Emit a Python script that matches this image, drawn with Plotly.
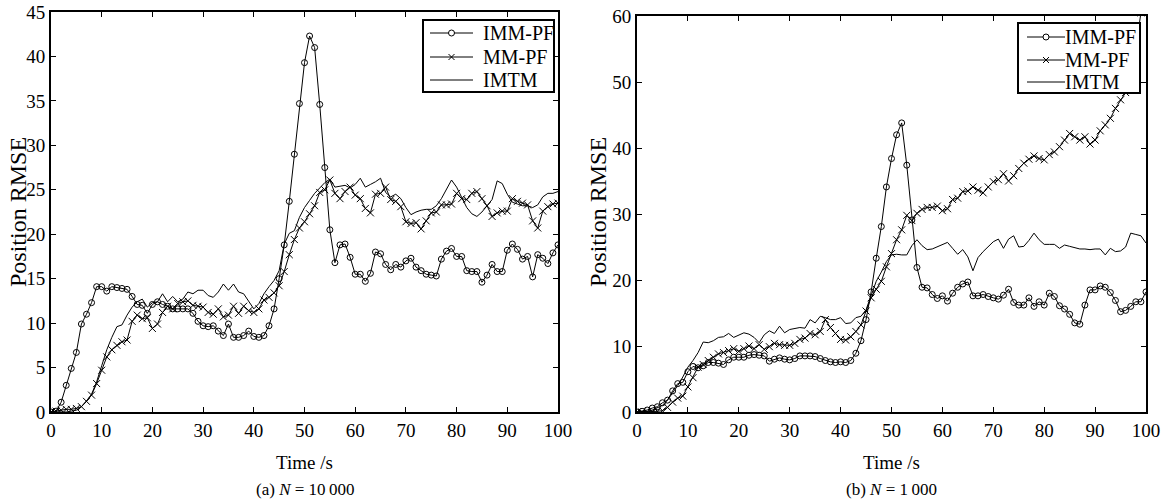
import plotly.graph_objects as go

# ---------------- data ----------------
t = list(range(0, 101))

# (a) N = 10 000
a_imm_pf = [0.0, 0.1, 1.1, 3.0, 4.9, 6.7, 9.9, 11.0, 12.3, 14.1,
            14.1, 13.6, 14.1, 14.0, 13.9, 13.8, 13.0, 12.1, 12.0, 11.1,
            12.1, 12.4, 12.1, 11.9, 11.6, 11.6, 11.6, 11.6, 11.1, 10.2,
            9.7, 9.6, 9.7, 9.1, 8.6, 9.9, 8.4, 8.4, 8.6, 9.1,
            8.5, 8.4, 8.6, 9.7, 11.6, 15.0, 18.8, 23.7, 29.0, 34.7,
            39.3, 42.3, 41.0, 34.6, 27.5, 20.5, 16.8, 18.8, 18.9, 17.4,
            15.5, 15.5, 14.7, 15.6, 18.0, 17.8, 16.6, 16.0, 16.6, 16.3,
            17.0, 17.3, 16.3, 15.9, 15.5, 15.4, 15.3, 17.2, 18.1, 18.4,
            17.5, 17.5, 15.9, 15.8, 15.8, 14.6, 15.4, 16.6, 15.8, 15.8,
            18.2, 18.9, 18.3, 17.2, 17.5, 15.2, 17.7, 17.3, 16.7, 17.9,
            18.8]
a_mm_pf = [0.0, 0.1, 0.2, 0.3, 0.3, 0.4, 0.6, 1.2, 1.9, 3.2,
           4.7, 6.2, 7.0, 7.5, 7.9, 8.1, 10.2, 10.9, 10.5, 10.6,
           9.4, 9.9, 11.2, 11.9, 11.6, 12.2, 12.4, 12.5, 12.0, 11.9,
           11.8, 11.2, 11.0, 11.6, 10.7, 10.9, 11.9, 11.1, 11.9, 11.4,
           11.2, 11.6, 12.6, 12.9, 13.4, 14.2, 15.8, 17.7, 19.4, 20.7,
           21.4, 22.3, 23.2, 24.7, 25.0, 26.1, 24.6, 24.0, 24.8, 25.3,
           24.4, 24.0, 22.9, 22.4, 24.5, 24.6, 25.3, 23.9, 23.7, 23.1,
           21.4, 21.2, 21.3, 20.6, 21.5, 22.4, 22.5, 23.3, 23.3, 23.4,
           24.6, 24.0, 23.9, 24.6, 24.8, 24.0, 23.2, 22.0, 22.4, 22.6,
           22.6, 24.0, 23.7, 23.5, 23.3, 21.5, 20.7, 22.6, 23.1, 23.4,
           23.5]
a_imtm = [0.0, 0.0, 0.0, 0.0, 0.1, 0.2, 0.6, 1.2, 2.0, 3.4,
          5.2, 7.0, 8.4, 9.6, 9.8, 10.9, 11.8, 12.4, 12.7, 11.8,
          12.3, 12.4, 13.3, 12.4, 13.0, 12.4, 12.7, 13.5, 13.3, 13.7,
          13.7, 13.1, 12.9, 13.5, 14.4, 13.7, 14.4, 13.5, 13.3, 12.4,
          11.6, 12.2, 13.3, 14.1, 14.8, 15.9, 18.9, 20.1, 20.4, 21.9,
          23.0, 23.8, 24.6, 25.2, 25.8, 26.2, 25.3, 25.4, 25.5, 25.2,
          25.6, 26.3, 25.3, 25.6, 25.9, 26.3, 24.7, 24.2, 24.5, 24.0,
          23.0, 22.2, 22.5, 22.7, 22.8, 22.8, 23.2, 24.0, 25.0, 26.1,
          25.3, 24.2, 23.0, 22.3, 22.0, 22.5, 23.2, 23.9, 26.0, 25.7,
          24.5, 23.6, 23.4, 23.2, 23.2, 23.0, 23.3, 24.2, 24.6, 24.6,
          24.8]

# (b) N = 1 000
b_imm_pf = [0.0, 0.1, 0.3, 0.6, 0.8, 1.4, 1.8, 3.2, 4.3, 4.5,
            6.1, 6.9, 6.7, 7.0, 7.5, 7.5, 7.4, 7.2, 7.9, 8.3,
            8.3, 8.3, 8.6, 8.7, 8.6, 8.5, 7.7, 8.0, 8.2, 8.0,
            7.9, 8.1, 8.5, 8.5, 8.5, 8.4, 8.1, 7.8, 7.6, 7.5,
            7.6, 7.5, 7.8, 8.9, 10.8, 14.0, 18.2, 23.3, 28.1, 34.1,
            38.4, 42.0, 43.8, 37.4, 29.1, 21.9, 18.9, 18.8, 17.8, 17.2,
            17.6, 16.8, 18.0, 18.9, 19.4, 19.7, 17.6, 17.6, 17.8, 17.5,
            17.3, 17.1, 17.7, 18.6, 16.6, 16.2, 16.2, 17.3, 16.0, 16.7,
            16.2, 18.0, 17.5, 16.1, 15.6, 14.8, 13.5, 13.3, 16.2, 18.5,
            18.5, 19.1, 18.9, 18.1, 16.9, 15.2, 15.4, 16.0, 16.7, 16.7,
            18.2]
b_mm_pf = [0.0, 0.0, 0.0, 0.0, 0.1, 0.2, 0.7, 1.5, 2.1, 2.4,
           3.8, 5.2, 6.8, 7.2, 7.8, 8.3, 8.8, 9.0, 9.3, 9.6,
           9.2, 9.6, 10.0, 9.6, 10.2, 9.5, 9.9, 10.4, 10.2, 10.1,
           10.1, 10.4, 11.0, 11.2, 11.9, 11.7, 12.2, 14.0, 12.8, 11.9,
           11.0, 10.9, 11.4, 12.2, 13.2, 15.3, 17.3, 18.6, 19.8, 22.0,
           24.0, 26.1, 27.6, 29.8, 29.0, 30.1, 30.7, 31.0, 31.0, 31.2,
           30.5, 30.8, 32.2, 32.4, 33.4, 33.5, 34.1, 33.6, 33.2, 34.1,
           34.9, 35.2, 36.1, 35.0, 35.8, 36.9, 37.7, 38.3, 38.8, 38.4,
           38.2, 39.0, 39.4, 40.2, 41.2, 42.2, 41.7, 41.2, 41.7, 40.6,
           41.2, 42.6, 43.5, 44.5, 46.0, 47.3, 48.4, 51.0, 55.0, 60.5,
           64.0]
b_imtm = [0.0, 0.0, 0.1, 0.3, 0.6, 1.0, 1.8, 2.9, 4.0, 5.3,
          6.8, 7.8, 9.0, 10.6, 10.5, 10.8, 11.3, 11.4, 11.9, 11.3,
          11.6, 12.0, 11.8, 11.3, 10.5, 11.7, 12.3, 11.9, 13.0, 12.0,
          12.5, 12.7, 12.8, 12.7, 14.0, 13.5, 14.5, 14.3, 14.0, 14.0,
          14.3, 13.4, 13.5, 14.3, 14.5, 15.5, 17.5, 19.8, 21.2, 22.8,
          23.8, 23.9, 23.8, 23.8, 25.2, 26.1, 25.2, 24.6, 24.7, 25.0,
          25.3, 25.7, 24.8, 23.9, 24.6, 23.5, 21.4, 23.4, 24.3, 25.1,
          25.8, 26.2, 24.8, 26.2, 26.7, 25.0, 25.1, 26.0, 27.1, 26.1,
          25.4, 25.4, 25.4, 24.8, 25.3, 25.1, 24.9, 24.7, 24.7, 24.6,
          24.7, 24.7, 23.8, 24.8, 24.3, 24.4, 25.0, 27.1, 26.9, 26.7,
          25.6]

series_names = ["IMM-PF", "MM-PF", "IMTM"]
x_ticks = [0, 10, 20, 30, 40, 50, 60, 70, 80, 90, 100]
a_y_ticks = [0, 5, 10, 15, 20, 25, 30, 35, 40, 45]
b_y_ticks = [0, 10, 20, 30, 40, 50, 60]
captions = ["(a) <i>N</i> = 10\u2009000", "(b) <i>N</i> = 1\u2009000"]
x_title = "Time /s"
y_title = "Position RMSE"

# ---------------- figure ----------------
FONT = "Liberation Serif, Times New Roman, serif"
W, H = 1164, 501


def px_x(p):
    return p / W


def px_y(p):
    return 1 - p / H


fig = go.Figure()


def add_panel(xa, ya, imm, mm, imtm):
    # traces are clipped to the plot area so the legend boxes sit on top
    fig.add_trace(go.Scatter(
        x=t, y=imm, name=series_names[0], mode="lines+markers",
        xaxis=xa, yaxis=ya, cliponaxis=True,
        line=dict(color="black", width=1),
        marker=dict(symbol="circle-open", size=6, color="black",
                    line=dict(width=1, color="black"))))
    fig.add_trace(go.Scatter(
        x=t, y=mm, name=series_names[1], mode="lines+markers",
        xaxis=xa, yaxis=ya, cliponaxis=True,
        line=dict(color="black", width=1),
        marker=dict(symbol="x-thin-open", size=7, color="black",
                    line=dict(width=1, color="black"))))
    fig.add_trace(go.Scatter(
        x=t, y=imtm, name=series_names[2], mode="lines",
        xaxis=xa, yaxis=ya, cliponaxis=True,
        line=dict(color="black", width=1)))


add_panel("x", "y", a_imm_pf, a_mm_pf, a_imtm)
add_panel("x2", "y2", b_imm_pf, b_mm_pf, b_imtm)

axis_common = dict(
    showgrid=False, zeroline=False, showline=True, linecolor="black",
    linewidth=2, mirror="ticks", ticks="inside", ticklen=5, tickwidth=1,
    tickcolor="black", automargin=False, layer="above traces",
    tickfont=dict(family=FONT, size=19, color="black"),
)

fig.update_layout(
    width=W, height=H,
    margin=dict(l=0, r=0, t=0, b=0),
    paper_bgcolor="white", plot_bgcolor="white",
    font=dict(family=FONT, size=19, color="black"),
    showlegend=False,
    xaxis=dict(domain=[px_x(51), px_x(558)], range=[0, 100],
               tickvals=x_ticks, anchor="y", **axis_common),
    yaxis=dict(domain=[px_y(412), px_y(12)], range=[0, 45],
               tickvals=a_y_ticks, anchor="x", **axis_common),
    xaxis2=dict(domain=[px_x(637), px_x(1146)], range=[0, 100],
                tickvals=x_ticks, anchor="y2", **axis_common),
    yaxis2=dict(domain=[px_y(412), px_y(16)], range=[0, 60],
                tickvals=b_y_ticks, anchor="x2", **axis_common),
)

# ---------------- legends (drawn as boxes over the plot) ----------------
shapes = []
annots = []


def legend_box(box, rows, line_x, text_x):
    x0, x1, y0, y1 = box
    shapes.append(dict(type="rect", xref="paper", yref="paper", layer="above",
                       x0=px_x(x0), x1=px_x(x1), y0=px_y(y1), y1=px_y(y0),
                       fillcolor="white", line=dict(color="black", width=2)))
    lx0, lx1 = line_x
    mx = (lx0 + lx1) / 2
    for i, (ry, name) in enumerate(zip(rows, series_names)):
        shapes.append(dict(type="line", xref="paper", yref="paper", layer="above",
                           x0=px_x(lx0), x1=px_x(lx1), y0=px_y(ry), y1=px_y(ry),
                           line=dict(color="black", width=1)))
        if i == 0:
            r = 3
            shapes.append(dict(type="circle", xref="paper", yref="paper",
                               layer="above", fillcolor="white",
                               x0=px_x(mx - r), x1=px_x(mx + r),
                               y0=px_y(ry + r), y1=px_y(ry - r),
                               line=dict(color="black", width=1)))
        elif i == 1:
            r = 3
            for s in (1, -1):
                shapes.append(dict(type="line", xref="paper", yref="paper",
                                   layer="above",
                                   x0=px_x(mx - r), x1=px_x(mx + r),
                                   y0=px_y(ry - s * r), y1=px_y(ry + s * r),
                                   line=dict(color="black", width=1)))
        annots.append(dict(x=px_x(text_x), y=px_y(ry), xref="paper", yref="paper",
                           text=name, showarrow=False, xanchor="left",
                           yanchor="middle",
                           font=dict(family=FONT, size=20, color="black")))


legend_box((423, 554, 20, 92), (33, 57, 80), (430, 473), 481)
legend_box((1018, 1140, 23, 93), (37, 60, 82), (1027, 1065), 1063)

for cx, cap in [((51 + 558) / 2, captions[0]), ((637 + 1146) / 2, captions[1])]:
    annots.append(dict(x=px_x(cx), y=px_y(462), xref="paper", yref="paper",
                       text=x_title, showarrow=False, xanchor="center",
                       yanchor="middle", font=dict(family=FONT, size=19)))
    annots.append(dict(x=px_x(cx), y=px_y(489), xref="paper", yref="paper",
                       text=cap, showarrow=False, xanchor="center",
                       yanchor="middle", font=dict(family=FONT, size=17)))
for cx in [18, 598]:
    annots.append(dict(x=px_x(cx), y=px_y(212), xref="paper", yref="paper",
                       text=y_title, showarrow=False, textangle=-90,
                       xanchor="center", yanchor="middle",
                       font=dict(family=FONT, size=24)))

fig.update_layout(shapes=shapes, annotations=annots)

fig.write_html("out.html")
